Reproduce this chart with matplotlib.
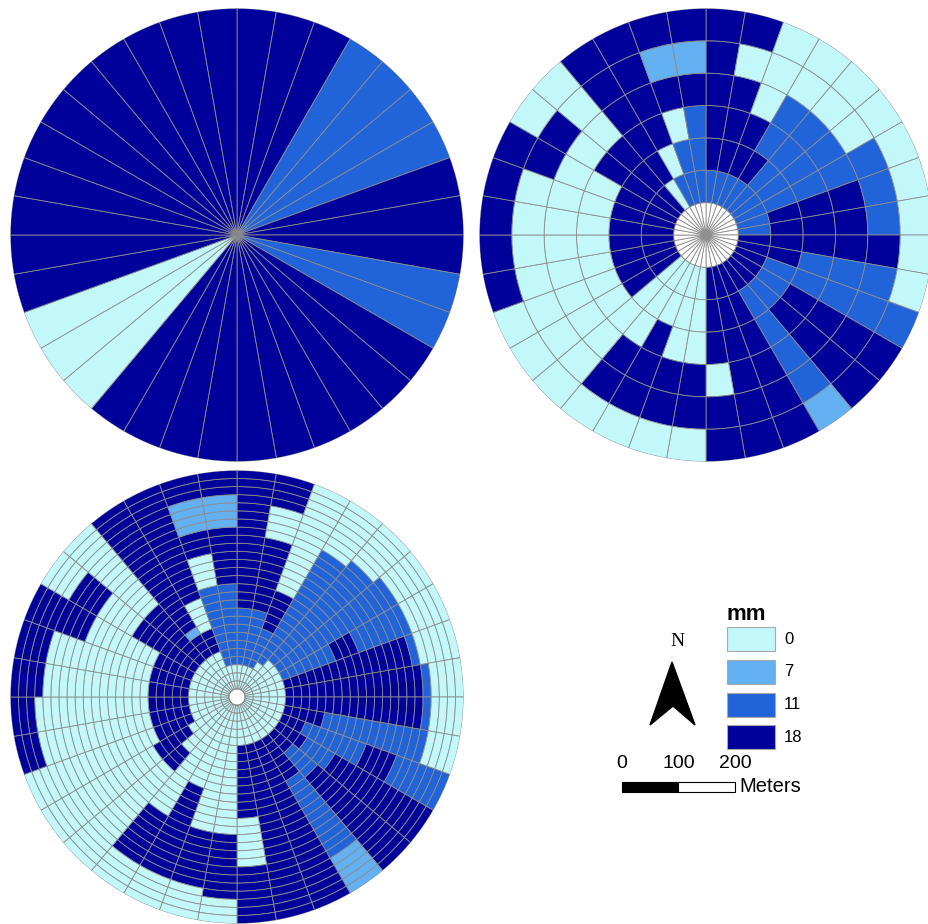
import numpy as np
import matplotlib.pyplot as plt
from matplotlib.patches import Rectangle, Polygon

W, H = 929, 924
fig = plt.figure(figsize=(W / 100, H / 100), dpi=100)

# legend classes (mm) and their fill colours
levels = [0, 7, 11, 18]
level_colors = ['#c3f8fb', '#63b0f3', '#2163d9', '#00009b']
code_colors = dict(zip('LBMD', level_colors))
grid_gray = '#8c8c8c'

radius_m = 400          # plot radius in meters
px_per_m = 113.3 / 200  # from the 0-200 m scale bar

# single ring: one value per 10 degree sector, clockwise from north
sector_mm = [18, 18, 18, 11, 11, 11, 11, 18, 18, 18, 11, 11,
             18, 18, 18, 18, 18, 18, 18, 18, 18, 18, 0, 0,
             0, 18, 18, 18, 18, 18, 18, 18, 18, 18, 18, 18]

# 7 rings, innermost one empty; each string goes from inner to outer ring
# L=0, B=7, M=11, D=18
mid_codes = [
    'MDDDDD', 'MDDDLD', 'MDDLLL', 'MDMMLL', 'MMMMLL', 'MMMMLL',
    'MMMMML', 'MDDDML', 'MDDDML', 'DDDDDL', 'DDMMML', 'DMMMMM',
    'DMDDDD', 'DMDDDD', 'DMMMMB', 'DDDDDD', 'DDDDDD', 'DDDLDD',
    'LLLDDL', 'LLLDDL', 'LLDDDL', 'LLLDDL', 'LLLLLL', 'DDLLLL',
    'DDLLLL', 'DDLLLD', 'DDLLLD', 'DDLLLD', 'DDLLLD', 'DDLLDD',
    'DDDLDL', 'DDDLLL', 'LDDDDD', 'MLDDDD', 'MMLDBD', 'MMMDBD',
]

# 28 rings, innermost one empty; runs of (code, ring count) from inside out
fine_runs = [
    'L3 M7 D17', 'L3 M7 D9 L4 D4', 'L3 M5 D5 L14', 'L4 M16 L7',
    'L5 M16 L6', 'L5 M17 L5', 'L5 M7 D3 M7 L5', 'L5 D16 M1 L5',
    'L5 D17 M1 L4', 'L5 D17 M1 L4', 'L5 D5 M13 L4', 'L5 D3 M8 D4 M7',
    'L5 D4 M4 D14', 'L5 D3 M4 D15', 'L5 D6 M11 B5', 'L5 D22',
    'L5 D22', 'L5 D9 L6 D7', 'L16 D8 L3', 'L16 D7 L4',
    'L11 D12 L4', 'L16 D7 L4', 'L8 D3 L16', 'L6 D5 L16',
    'L5 D5 L17', 'L5 D5 L14 D3', 'L5 D5 L14 D3', 'L5 D5 L13 D4',
    'L5 D5 L13 D4', 'L5 D5 L9 D8', 'L5 D9 L5 D4 L4', 'L5 D9 L13',
    'L5 D3 B1 D18', 'L5 D3 L4 D15', 'L3 M10 L4 D3 B4 D3', 'L3 M10 D7 B4 D3',
]


def expand(runs):
    return ''.join(tok[0] * int(tok[1:]) for tok in runs.split())


def polar_panel(cx, cy):
    r_px = radius_m * px_per_m
    ax = fig.add_axes([(cx - r_px) / W, 1 - (cy + r_px) / H,
                       2 * r_px / W, 2 * r_px / H], projection='polar')
    ax.set_theta_zero_location('N')
    ax.set_theta_direction(-1)
    ax.set_ylim(0, radius_m)
    ax.set_axis_off()
    return ax


def draw_cells(ax, codes, n_rings, first_ring):
    dr = radius_m / n_rings
    theta, bottom, colors = [], [], []
    for s, col in enumerate(codes):
        for k, c in enumerate(col):
            theta.append(np.deg2rad(s * 10 + 5))
            bottom.append((first_ring + k) * dr)
            colors.append(code_colors[c])
    ax.bar(theta, dr, width=np.deg2rad(10), bottom=bottom, color=colors,
           edgecolor=grid_gray, linewidth=0.6)


sector_theta = np.deg2rad(np.arange(36) * 10 + 5)

# top left: whole-radius sectors
ax1 = polar_panel(237, 235)
ax1.bar(sector_theta, radius_m, width=np.deg2rad(10),
        color=[level_colors[levels.index(v)] for v in sector_mm],
        edgecolor=grid_gray, linewidth=0.6)

# top right: 7 rings with an empty centre
ax2 = polar_panel(706, 235)
ax2.bar(sector_theta, radius_m / 7, width=np.deg2rad(10), color='white',
        edgecolor=grid_gray, linewidth=0.6)
draw_cells(ax2, mid_codes, 7, 1)

# bottom: 28 rings
ax3 = polar_panel(237, 697)
draw_cells(ax3, [expand(r) for r in fine_runs], 28, 1)
t = np.linspace(0, 2 * np.pi, 200)
ax3.plot(t, np.full_like(t, radius_m / 28), color=grid_gray, lw=0.6)

# legend, north arrow and scale bar in pixel coordinates
ov = fig.add_axes([0, 0, 1, 1])
ov.set_xlim(0, W)
ov.set_ylim(H, 0)
ov.set_axis_off()

ov.text(727, 615, 'mm', fontsize=16, fontweight='bold', family='Liberation Sans',
        ha='left', va='center')
for i, (lv, c) in enumerate(zip(levels, level_colors)):
    y0 = 627 + i * 32.8
    ov.add_patch(Rectangle((727, y0), 48, 24, facecolor=c, edgecolor='#a8a8a8', lw=0.8))
    ov.text(784, y0 + 12, str(lv), fontsize=12, family='Liberation Sans',
            ha='left', va='center')

ov.text(677, 642, 'N', fontsize=14, family='Liberation Serif', ha='center', va='center')
ov.add_patch(Polygon([(672, 662), (695, 725), (673, 706), (650, 725)],
                     closed=True, facecolor='black', edgecolor='black'))

bar_x0, bar_y0 = 621.7, 781.5
for j, fc in enumerate(['black', 'white']):
    ov.add_patch(Rectangle((bar_x0 + j * 100 * px_per_m, bar_y0), 100 * px_per_m, 10,
                           facecolor=fc, edgecolor='black', lw=0.8))
for m in [0, 100, 200]:
    ov.text(bar_x0 + m * px_per_m, 764, str(m), fontsize=14, family='Liberation Sans',
            ha='center', va='center')
ov.text(739, 786, 'Meters', fontsize=14.5, family='Liberation Sans', ha='left', va='center')

fig.savefig('out.png', dpi=100)
